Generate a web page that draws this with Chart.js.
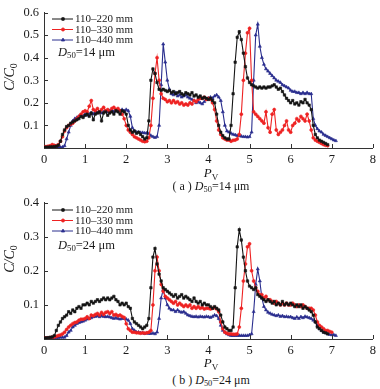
<!DOCTYPE html>
<html>
<head>
<meta charset="utf-8">
<script src="https://cdn.jsdelivr.net/npm/chart.js@4.4.1/dist/chart.umd.min.js"></script>
<style>
  body { margin: 0; background: #fff; }
  #wrap { position: relative; width: 380px; height: 389px; font-family: "Liberation Serif", "Times New Roman", serif; color: #1a1a1a; }
  canvas { position: absolute; left: 0; }
  .txt { position: absolute; white-space: nowrap; line-height: 1; }
  .ylab { font-size: 14px; font-style: italic; transform: translate(-50%, -50%) rotate(-90deg); }
  .xlab { font-size: 13px; transform: translate(-50%, -50%); }
  .cap { font-size: 12px; transform: translate(-50%, -50%); }
  .d50 { font-size: 12.5px; }
  sub { font-size: 70%; vertical-align: -0.25em; font-style: normal; }
  i { font-style: italic; }
</style>
</head>
<body>
<div id="wrap">
  <canvas id="chartA" width="380" height="168" style="top:0"></canvas>
  <canvas id="chartB" width="380" height="169" style="top:190px"></canvas>

  <div class="txt ylab" style="left:11px;top:77px"><i>C</i>/<i>C</i><sub>0</sub></div>
  <div class="txt ylab" style="left:11px;top:259px"><i>C</i>/<i>C</i><sub>0</sub></div>

  <div class="txt d50" style="left:58px;top:46px"><i>D</i><sub>50</sub>=14 μm</div>
  <div class="txt d50" style="left:58px;top:239px"><i>D</i><sub>50</sub>=24 μm</div>

  <div class="txt xlab" style="left:211px;top:174px"><i>P</i><sub>V</sub></div>
  <div class="txt xlab" style="left:211px;top:364px"><i>P</i><sub>V</sub></div>

  <div class="txt cap" style="left:211px;top:187px">( a ) <i>D</i><sub>50</sub>=14 μm</div>
  <div class="txt cap" style="left:211px;top:381px">( b ) <i>D</i><sub>50</sub>=24 μm</div>
</div>

<script>
// ---- Data ----
const pv = [
  0.00,0.05,0.10,0.15,0.20,0.25,0.30,0.35,0.40,0.45,
  0.50,0.55,0.60,0.65,0.70,0.75,0.80,0.85,0.90,0.95,
  1.00,1.05,1.10,1.15,1.20,1.25,1.30,1.35,1.40,1.45,
  1.50,1.55,1.60,1.65,1.70,1.75,1.80,1.85,1.90,1.95,
  2.00,2.05,2.10,2.15,2.20,2.25,2.30,2.35,2.40,2.45,
  2.50,2.55,2.60,2.65,2.70,2.75,2.80,2.85,2.90,2.95,
  3.00,3.05,3.10,3.15,3.20,3.25,3.30,3.35,3.40,3.45,
  3.50,3.55,3.60,3.65,3.70,3.75,3.80,3.85,3.90,3.95,
  4.00,4.05,4.10,4.15,4.20,4.25,4.30,4.35,4.40,4.45,
  4.50,4.55,4.60,4.65,4.70,4.75,4.80,4.85,4.90,4.95,
  5.00,5.05,5.10,5.15,5.20,5.25,5.30,5.35,5.40,5.45,
  5.50,5.55,5.60,5.65,5.70,5.75,5.80,5.85,5.90,5.95,
  6.00,6.05,6.10,6.15,6.20,6.25,6.30,6.35,6.40,6.45,
  6.50,6.55,6.60,6.65,6.70,6.75,6.80,6.85,6.90,6.95,
  7.00,7.05,7.10
];

const seriesNames = ['110–220 mm', '110–330 mm', '110–440 mm'];

// (a) D50 = 14 um
const a220 = [
  0.003,0.004,0.004,0.005,0.005,0.006,0.008,0.012,0.03,0.06,
  0.08,0.095,0.10,0.11,0.115,0.12,0.125,0.13,0.14,0.135,
  0.145,0.15,0.14,0.155,0.125,0.15,0.155,0.16,0.12,0.155,
  0.16,0.145,0.155,0.16,0.15,0.165,0.16,0.15,0.165,0.16,
  0.15,0.10,0.08,0.07,0.075,0.065,0.07,0.06,0.05,0.04,
  0.045,0.12,0.30,0.35,0.33,0.29,0.26,0.255,0.26,0.255,
  0.25,0.255,0.245,0.25,0.24,0.245,0.25,0.24,0.235,0.245,
  0.24,0.235,0.245,0.23,0.235,0.225,0.23,0.22,0.225,0.22,
  0.215,0.22,0.21,0.20,0.15,0.10,0.07,0.055,0.045,0.04,
  0.04,0.10,0.24,0.38,0.49,0.515,0.48,0.42,0.36,0.31,
  0.29,0.28,0.275,0.27,0.265,0.27,0.265,0.27,0.265,0.27,
  0.27,0.275,0.28,0.27,0.26,0.265,0.25,0.235,0.22,0.21,
  0.20,0.21,0.195,0.20,0.19,0.205,0.20,0.215,0.20,0.19,
  0.17,0.10,0.06,0.045,0.035,0.03,0.025,0.02,0.015
];
const a330 = [
  0.005,0.006,0.008,0.01,0.015,0.012,0.01,0.015,0.03,0.05,
  0.075,0.09,0.10,0.105,0.11,0.12,0.13,0.14,0.15,0.16,
  0.165,0.16,0.185,0.21,0.17,0.165,0.175,0.16,0.17,0.18,
  0.165,0.17,0.16,0.175,0.18,0.17,0.175,0.165,0.15,0.13,
  0.10,0.08,0.07,0.06,0.05,0.045,0.04,0.035,0.03,0.028,
  0.03,0.045,0.10,0.22,0.33,0.40,0.30,0.24,0.22,0.215,
  0.205,0.21,0.20,0.21,0.20,0.205,0.195,0.20,0.19,0.195,
  0.19,0.20,0.195,0.21,0.205,0.215,0.22,0.22,0.225,0.215,
  0.22,0.215,0.20,0.17,0.12,0.08,0.06,0.045,0.04,0.035,
  0.035,0.03,0.034,0.035,0.04,0.06,0.15,0.30,0.42,0.51,
  0.53,0.30,0.16,0.15,0.14,0.13,0.12,0.11,0.16,0.09,
  0.07,0.15,0.17,0.08,0.06,0.07,0.08,0.10,0.12,0.08,
  0.07,0.10,0.11,0.13,0.12,0.14,0.13,0.12,0.15,0.12,
  0.08,0.045,0.035,0.03,0.025,0.02,0.015,0.012,0.01
];
const a440 = [
  0.002,0.002,0.002,0.002,0.002,0.002,0.002,0.003,0.003,0.004,
  0.01,0.04,0.07,0.10,0.12,0.13,0.135,0.14,0.145,0.14,
  0.15,0.145,0.15,0.155,0.15,0.16,0.155,0.16,0.155,0.16,
  0.165,0.16,0.165,0.17,0.16,0.165,0.17,0.165,0.17,0.165,
  0.17,0.165,0.14,0.09,0.075,0.07,0.07,0.068,0.068,0.066,
  0.066,0.064,0.055,0.05,0.046,0.05,0.10,0.28,0.46,0.38,
  0.30,0.26,0.24,0.235,0.245,0.23,0.235,0.225,0.23,0.235,
  0.225,0.22,0.215,0.21,0.20,0.205,0.20,0.195,0.205,0.215,
  0.22,0.225,0.22,0.23,0.235,0.225,0.21,0.16,0.10,0.075,
  0.07,0.065,0.06,0.058,0.055,0.055,0.052,0.05,0.05,0.048,
  0.05,0.07,0.30,0.50,0.548,0.45,0.40,0.37,0.35,0.34,
  0.33,0.32,0.31,0.30,0.295,0.29,0.28,0.275,0.27,0.265,
  0.255,0.25,0.25,0.245,0.245,0.24,0.245,0.24,0.245,0.24,
  0.24,0.13,0.10,0.085,0.075,0.07,0.06,0.055,0.05,0.045,
  0.04,0.035,0.032
];

// (b) D50 = 24 um
const b220 = [
  0.003,0.003,0.004,0.005,0.006,0.01,0.025,0.04,0.05,0.06,
  0.065,0.07,0.08,0.075,0.085,0.08,0.09,0.095,0.09,0.10,
  0.10,0.105,0.10,0.11,0.105,0.11,0.115,0.11,0.115,0.12,
  0.115,0.12,0.115,0.12,0.125,0.115,0.11,0.10,0.105,0.10,
  0.105,0.095,0.09,0.06,0.05,0.045,0.04,0.035,0.03,0.035,
  0.04,0.06,0.15,0.24,0.265,0.22,0.19,0.17,0.15,0.145,
  0.14,0.135,0.13,0.125,0.13,0.12,0.125,0.13,0.12,0.125,
  0.12,0.115,0.11,0.12,0.11,0.105,0.11,0.10,0.105,0.10,
  0.10,0.095,0.09,0.095,0.09,0.085,0.07,0.05,0.035,0.03,
  0.025,0.025,0.035,0.15,0.27,0.32,0.29,0.24,0.20,0.17,
  0.155,0.15,0.145,0.15,0.13,0.125,0.12,0.115,0.11,0.115,
  0.11,0.105,0.11,0.10,0.105,0.10,0.11,0.10,0.105,0.10,
  0.105,0.10,0.095,0.10,0.095,0.10,0.09,0.095,0.09,0.085,
  0.08,0.07,0.05,0.035,0.03,0.025,0.02,0.018,0.015
];
const b330 = [
  0.003,0.003,0.003,0.004,0.005,0.006,0.008,0.01,0.012,0.015,
  0.02,0.028,0.035,0.04,0.045,0.048,0.05,0.055,0.058,0.058,
  0.06,0.065,0.06,0.07,0.068,0.072,0.075,0.07,0.078,0.072,
  0.078,0.08,0.075,0.08,0.07,0.072,0.068,0.07,0.066,0.063,
  0.045,0.03,0.025,0.02,0.02,0.018,0.018,0.017,0.018,0.017,
  0.018,0.02,0.025,0.10,0.20,0.24,0.20,0.16,0.14,0.125,
  0.12,0.115,0.11,0.105,0.11,0.10,0.105,0.10,0.095,0.10,
  0.095,0.10,0.09,0.095,0.09,0.095,0.09,0.092,0.088,0.09,
  0.09,0.088,0.09,0.092,0.088,0.08,0.05,0.03,0.02,0.017,
  0.015,0.015,0.014,0.014,0.015,0.035,0.09,0.17,0.22,0.27,
  0.279,0.20,0.17,0.15,0.14,0.13,0.13,0.12,0.125,0.115,
  0.115,0.11,0.105,0.11,0.105,0.10,0.105,0.10,0.105,0.10,
  0.10,0.105,0.10,0.095,0.10,0.095,0.10,0.095,0.09,0.09,
  0.09,0.085,0.07,0.05,0.04,0.035,0.03,0.025,0.025,0.022,
  0.02
];
const b440 = [
  0.003,0.003,0.003,0.003,0.004,0.004,0.004,0.004,0.005,0.005,
  0.005,0.01,0.02,0.025,0.035,0.04,0.045,0.048,0.05,0.052,
  0.055,0.058,0.06,0.062,0.065,0.066,0.068,0.065,0.068,0.066,
  0.065,0.066,0.064,0.062,0.06,0.062,0.06,0.058,0.06,0.06,
  0.058,0.055,0.045,0.03,0.025,0.02,0.02,0.018,0.018,0.016,
  0.017,0.016,0.016,0.017,0.015,0.02,0.06,0.12,0.145,0.12,
  0.10,0.09,0.085,0.085,0.08,0.085,0.08,0.078,0.08,0.075,
  0.07,0.068,0.066,0.065,0.066,0.064,0.066,0.065,0.064,0.066,
  0.065,0.063,0.066,0.07,0.068,0.06,0.04,0.025,0.02,0.015,
  0.012,0.01,0.01,0.01,0.01,0.01,0.01,0.01,0.01,0.01,
  0.012,0.015,0.08,0.16,0.205,0.17,0.12,0.095,0.085,0.078,
  0.075,0.072,0.07,0.068,0.07,0.066,0.068,0.065,0.066,0.064,
  0.065,0.062,0.06,0.064,0.06,0.065,0.062,0.066,0.064,0.062,
  0.06,0.055,0.05,0.04,0.03,0.025,0.02,0.018,0.015,0.013,
  0.012,0.012,0.01
];

const xTicks = [0, 1, 2, 3, 4, 5, 6, 7, 8];

// ---- Styles ----
const INK = '#1a1a1a';
const styles = [
  { color: '#151515', point: 'rect', r: 1.7 },
  { color: '#ee2222', point: 'circle', r: 1.5 },
  { color: '#2a2e8e', point: 'triangle', r: 1.8 },
];
const FONT = '"Liberation Serif", "Times New Roman", serif';

function ds(i, ys) {
  const s = styles[i];
  return {
    label: seriesNames[i],
    data: ys.map((y, k) => ({ x: pv[k], y })),
    borderColor: s.color,
    backgroundColor: s.color,
    borderWidth: 1.1,
    pointStyle: s.point,
    pointRadius: s.r,
    pointBorderWidth: 0.6,
    pointHoverRadius: 0,
    tension: 0,
  };
}

// inward tick marks + in-plot legend
const axisDeco = {
  id: 'axisDeco',
  afterDraw(chart, args, opts) {
    const { ctx, chartArea: a, scales: { x, y } } = chart;
    ctx.save();
    ctx.strokeStyle = '#333';
    ctx.lineWidth = 1;
    ctx.beginPath();
    x.ticks.forEach(t => {
      if (t.value === 0) return;
      const px = Math.round(x.getPixelForValue(t.value)) + 0.5;
      ctx.moveTo(px, a.bottom); ctx.lineTo(px, a.bottom - 4);
    });
    y.ticks.forEach(t => {
      if (t.value === 0) return;
      const py = Math.round(y.getPixelForValue(t.value)) + 0.5;
      ctx.moveTo(a.left, py); ctx.lineTo(a.left + 4, py);
    });
    ctx.stroke();

    // legend
    ctx.font = '11px ' + FONT;
    ctx.textBaseline = 'middle';
    chart.data.datasets.forEach((d, i) => {
      const yy = opts.top + i * opts.gap;
      ctx.strokeStyle = d.borderColor;
      ctx.lineWidth = 1;
      ctx.beginPath();
      ctx.moveTo(opts.left, yy); ctx.lineTo(opts.left + 21, yy);
      ctx.stroke();
      ctx.fillStyle = d.backgroundColor;
      Chart.helpers.drawPoint(ctx, { pointStyle: d.pointStyle, radius: d.pointRadius, rotation: 0, borderWidth: 0.6 }, opts.left + 11, yy);
      ctx.fillStyle = INK;
      ctx.fillText(d.label, opts.left + 23, yy + 0.5);
    });
    ctx.restore();
  }
};

function makeChart(id, sets, ymax, padTop, legendTop) {
  return new Chart(document.getElementById(id), {
    type: 'line',
    data: { datasets: sets },
    plugins: [axisDeco],
    options: {
      responsive: false,
      animation: false,
      devicePixelRatio: 1,
      layout: { padding: { left: 0, right: 7, top: padTop, bottom: 0 } },
      plugins: {
        legend: { display: false },
        tooltip: { enabled: false },
        axisDeco: { left: 52, top: legendTop, gap: 10.5 },
      },
      scales: {
        x: {
          type: 'linear', min: 0, max: 8,
          afterBuildTicks: s => { s.ticks = xTicks.map(v => ({ value: v })); },
          afterFit: s => { s.height = 20; },
          grid: { display: false, drawTicks: false },
          border: { display: true, color: '#333', width: 1 },
          ticks: { padding: 4, color: INK, font: { family: FONT, size: 12.5 }, callback: v => String(v) },
        },
        y: {
          min: 0, max: ymax,
          afterFit: s => { s.width = 44; },
          grid: { display: false, drawTicks: false },
          border: { display: true, color: '#333', width: 1 },
          ticks: { stepSize: 0.1, padding: 5, color: INK, font: { family: FONT, size: 12.5 },
                   callback: v => (Math.abs(v) < 1e-9 ? '' : v.toFixed(1)) },
        },
      },
    },
  });
}

makeChart('chartA', [ds(0, a220), ds(1, a330), ds(2, a440)], 0.6, 7, 19);
makeChart('chartB', [ds(0, b220), ds(1, b330), ds(2, b440)], 0.4, 9, 20);
</script>
</body>
</html>
